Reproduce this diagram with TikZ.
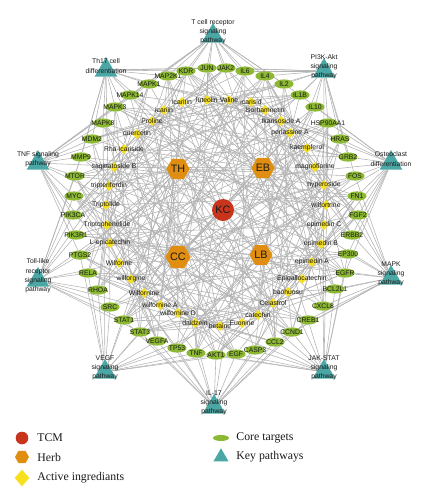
\documentclass[tikz,border=0pt]{standalone}
\usepackage{fontspec}
\setmainfont{Liberation Sans}
\newfontfamily\legendfont{Liberation Serif}
\usetikzlibrary{positioning,shapes.geometric,backgrounds}

\definecolor{kcred}{HTML}{C8341C}
\definecolor{herborange}{HTML}{E08E12}
\definecolor{ingyellow}{HTML}{F7E01E}
\definecolor{targetgreen}{HTML}{8CB833}
\definecolor{pathteal}{HTML}{4BA7A6}
\definecolor{linkgray}{HTML}{B3B3B3}

\begin{document}
\begin{tikzpicture}[x=0.5pt, y=-0.5pt,
		txt/.style={font=\fontsize{3.4}{4.6}\selectfont, text=black!90, inner sep=0pt},
		tcmshape/.style={circle, fill=kcred, inner sep=0pt},
		herbshape/.style={regular polygon, regular polygon sides=6, fill=herborange, inner sep=0pt},
		ingshape/.style={diamond, fill=ingyellow, inner sep=0pt},
		targetshape/.style={ellipse, fill=targetgreen, inner sep=0pt},
		pathshape/.style={regular polygon, regular polygon sides=3, fill=pathteal, inner sep=0pt},
		tcm/.style={tcmshape, minimum size=11pt, font=\fontsize{5.4}{6}\selectfont, text=black!90},
		herb/.style={herbshape, minimum size=11.5pt, font=\fontsize{5.4}{6}\selectfont, text=black!90},
		ingred/.style={ingshape, minimum width=5pt, minimum height=5pt, label={[txt]center:#1}},
		target/.style={targetshape, minimum width=9.6pt, minimum height=4.6pt, label={[txt]center:#1}},
		pathway/.style={pathshape, minimum size=13pt, label={[txt, align=center, yshift=2pt]center:#1}},
		link/.style={draw=linkgray, line width=0.28pt},
		legendtext/.style={font=\legendfont\fontsize{5.9}{7}\selectfont, text=black!90, inner sep=0pt, anchor=west},
		]
		\useasboundingbox (0,0) rectangle (426,500);
		
		%Nodes
		\node[tcm]  (kc) at (223,210) {KC};
		\node[herb] (h1) at (178,169) {TH};
		\node[herb] (h2) at (263,168) {EB};
		\node[herb] (h3) at (178,257) {CC};
		\node[herb] (h4) at (261,255) {LB};
		
		%Ingredients
		\node[ingred=icaritin]         (a1)  at (182,102) {};
		\node[ingred=luteolin]         (a2)  at (207,100) {};
		\node[ingred=Valine]           (a3)  at (229,100) {};
		\node[ingred=icarisid]         (a4)  at (251,102) {};
		\node[ingred=Isorhamnetin]     (a5)  at (265,110) {};
		\node[ingred=Ikarisoside A]    (a6)  at (281,121) {};
		\node[ingred=perlassine A]     (a7)  at (290,133) {};
		\node[ingred=kaempferol]       (a8)  at (307,148) {};
		\node[ingred=magnoflorine]     (a9)  at (315,167) {};
		\node[ingred=hyperoside]       (a10) at (324,185) {};
		\node[ingred=wilfortrine]      (a11) at (326,205) {};
		\node[ingred=epimedin C]       (a12) at (324,225) {};
		\node[ingred=epimedin B]       (a13) at (321,244) {};
		\node[ingred=epimedin A]       (a14) at (312,262) {};
		\node[ingred=Epigallocatechin] (a15) at (302,279) {};
		\node[ingred=baohuosu]         (a16) at (288,292) {};
		\node[ingred=Celastrol]        (a17) at (273,303) {};
		\node[ingred=catechin]         (a18) at (258,315) {};
		\node[ingred=Euonine]          (a19) at (242,323) {};
		\node[ingred=betaine]          (a20) at (220,326) {};
		\node[ingred=daidzein]         (a21) at (195,323) {};
		\node[ingred=wilfornine D]     (a22) at (178,313) {};
		\node[ingred=wilfornine A]     (a23) at (160,305) {};
		\node[ingred=Wilfornine]       (a24) at (144,293) {};
		\node[ingred=wilforgine]       (a25) at (131,279) {};
		\node[ingred=Wilforine]        (a26) at (119,263) {};
		\node[ingred=L-epicatechin]    (a27) at (110,243) {};
		\node[ingred=Triptophenolide]  (a28) at (107,225) {};
		\node[ingred=Triptolide]       (a29) at (106,205) {};
		\node[ingred=tripterifordin]   (a30) at (109,186) {};
		\node[ingred=sagittatoside B]  (a31) at (114,167) {};
		\node[ingred=Rha-icariside]    (a32) at (124,149) {};
		\node[ingred=quercetin]        (a33) at (137,134) {};
		\node[ingred=Proline]          (a34) at (152,121) {};
		\node[ingred=icariin]          (a35) at (164,110) {};
		
		%Targets
		\node[target=JUN]      (t1)  at (207,68) {};
		\node[target=JAK2]     (t2)  at (226,68) {};
		\node[target=IL6]      (t3)  at (245,71) {};
		\node[target=IL4]      (t4)  at (265,76) {};
		\node[target=IL2]      (t5)  at (284,84) {};
		\node[target=IL1B]     (t6)  at (300,95) {};
		\node[target=IL10]     (t7)  at (315,107) {};
		\node[target=HSP90AA1] (t8)  at (328,123) {};
		\node[target=HRAS]     (t9)  at (340,139) {};
		\node[target=GRB2]     (t10) at (348,157) {};
		\node[target=FOS]      (t11) at (355,176) {};
		\node[target=FN1]      (t12) at (357,196) {};
		\node[target=FGF2]     (t13) at (358,215) {};
		\node[target=ERBB2]    (t14) at (352,235) {};
		\node[target=EP300]    (t15) at (348,254) {};
		\node[target=EGFR]     (t16) at (345,273) {};
		\node[target=BCL2L1]   (t17) at (335,289) {};
		\node[target=CXCL8]    (t18) at (323,306) {};
		\node[target=CREB1]    (t19) at (308,320) {};
		\node[target=CCND1]    (t20) at (292,332) {};
		\node[target=CCL2]     (t21) at (275,342) {};
		\node[target=CASP3]    (t22) at (255,350) {};
		\node[target=EGF]      (t23) at (236,354) {};
		\node[target=AKT1]     (t24) at (216,355) {};
		\node[target=TNF]      (t25) at (196,353) {};
		\node[target=TP53]     (t26) at (177,348) {};
		\node[target=VEGFA]    (t27) at (157,341) {};
		\node[target=STAT3]    (t28) at (140,332) {};
		\node[target=STAT1]    (t29) at (124,320) {};
		\node[target=SRC]      (t30) at (110,307) {};
		\node[target=RHOA]     (t31) at (98,290) {};
		\node[target=RELA]     (t32) at (88,273) {};
		\node[target=PTGS2]    (t33) at (80,255) {};
		\node[target=PIK3R1]   (t34) at (76,235) {};
		\node[target=PIK3CA]   (t35) at (73,215) {};
		\node[target=MYC]      (t36) at (74,196) {};
		\node[target=MTOR]     (t37) at (75,176) {};
		\node[target=MMP9]     (t38) at (81,157) {};
		\node[target=MDM2]     (t39) at (92,139) {};
		\node[target=MAPK8]    (t40) at (103,123) {};
		\node[target=MAPK3]    (t41) at (115,107) {};
		\node[target=MAPK14]   (t42) at (130,95) {};
		\node[target=MAPK1]    (t43) at (149,84) {};
		\node[target=MAP2K1]   (t44) at (168,76) {};
		\node[target=KDR]      (t45) at (186,71) {};
		
		%Pathways
		\node[pathway={T cell receptor\\signaling\\pathway}] (p1)  at (213,36) {};
		\node[pathway={PI3K-Akt\\signaling\\pathway}]        (p2)  at (324,71) {};
		\node[pathway={Osteoclast\\differentiation}]         (p3)  at (391,163) {};
		\node[pathway={MAPK\\signaling\\pathway}]            (p4)  at (391,278) {};
		\node[pathway={JAK-STAT\\signaling\\pathway}]        (p5)  at (324,372) {};
		\node[pathway={IL-17\\signaling\\pathway}]           (p6)  at (214,407) {};
		\node[pathway={VEGF\\signaling\\pathway}]            (p7)  at (105,372) {};
		\node[pathway={Toll-like\\receptor\\signaling\\pathway}] (p8) at (38,280) {};
		\node[pathway={TNF signaling\\pathway}]              (p9)  at (38,163) {};
		\node[pathway={Th17 cell\\differentiation}]          (p10) at (106,70) {};
		
		%Lines
		\begin{pgfonlayer}{background}
		\draw[link] (kc) edge (h1) edge (h2) edge (h3) edge (h4);
		\draw[link] (h1) edge (a11) edge (a17) edge (a19) edge (a22) edge (a23) edge (a24) edge (a25) edge (a26) edge (a27) edge (a28) edge (a29) edge (a30);
		\draw[link] (h2) edge (a1) edge (a2) edge (a4) edge (a5) edge (a6) edge (a8) edge (a12) edge (a13) edge (a14) edge (a16) edge (a31) edge (a32) edge (a33) edge (a35);
		\draw[link] (h3) edge (a3) edge (a7) edge (a9) edge (a10) edge (a15) edge (a18) edge (a20) edge (a33) edge (a34);
		\draw[link] (h4) edge (a2) edge (a8) edge (a10) edge (a15) edge (a18) edge (a21) edge (a27) edge (a33);
		
		\draw[link] (a1) edge (t5) edge (t13) edge (t21) edge (t27) edge (t35) edge (t42) edge (t2);
		\draw[link] (a2) edge (t9) edge (t17) edge (t25) edge (t31) edge (t39) edge (t1) edge (t6);
		\draw[link] (a3) edge (t13) edge (t21) edge (t29) edge (t35) edge (t43) edge (t5) edge (t10);
		\draw[link] (a4) edge (t17) edge (t25) edge (t33) edge (t39) edge (t2) edge (t9) edge (t14);
		\draw[link] (a5) edge (t21) edge (t29) edge (t37) edge (t43) edge (t6) edge (t13) edge (t18);
		\draw[link] (a6) edge (t25) edge (t33) edge (t41) edge (t2) edge (t10) edge (t17) edge (t22);
		\draw[link] (a7) edge (t29) edge (t37) edge (t45) edge (t6) edge (t14) edge (t21) edge (t26);
		\draw[link] (a8) edge (t33) edge (t41) edge (t4) edge (t10) edge (t18) edge (t25) edge (t30);
		\draw[link] (a9) edge (t37) edge (t45) edge (t8) edge (t14) edge (t22) edge (t29) edge (t34);
		\draw[link] (a10) edge (t41) edge (t4) edge (t12) edge (t18) edge (t26) edge (t33) edge (t38);
		\draw[link] (a11) edge (t45) edge (t8) edge (t16) edge (t22) edge (t30) edge (t37) edge (t42);
		\draw[link] (a12) edge (t4) edge (t12) edge (t20) edge (t26) edge (t34) edge (t41) edge (t1);
		\draw[link] (a13) edge (t8) edge (t16) edge (t24) edge (t30) edge (t38) edge (t45) edge (t5);
		\draw[link] (a14) edge (t12) edge (t20) edge (t28) edge (t34) edge (t42) edge (t4) edge (t9);
		\draw[link] (a15) edge (t16) edge (t24) edge (t32) edge (t38) edge (t1) edge (t8) edge (t13);
		\draw[link] (a16) edge (t20) edge (t28) edge (t36) edge (t42) edge (t5) edge (t12) edge (t17);
		\draw[link] (a17) edge (t24) edge (t32) edge (t40) edge (t1) edge (t9) edge (t16) edge (t21);
		\draw[link] (a18) edge (t28) edge (t36) edge (t44) edge (t5) edge (t13) edge (t20) edge (t25);
		\draw[link] (a19) edge (t32) edge (t40) edge (t3) edge (t9) edge (t17) edge (t24) edge (t29);
		\draw[link] (a20) edge (t36) edge (t44) edge (t7) edge (t13) edge (t21) edge (t28) edge (t33);
		\draw[link] (a21) edge (t40) edge (t3) edge (t11) edge (t17) edge (t25) edge (t32) edge (t37);
		\draw[link] (a22) edge (t44) edge (t7) edge (t15) edge (t21) edge (t29) edge (t36) edge (t41);
		\draw[link] (a23) edge (t3) edge (t11) edge (t19) edge (t25) edge (t33) edge (t40) edge (t45);
		\draw[link] (a24) edge (t7) edge (t15) edge (t23) edge (t29) edge (t37) edge (t44) edge (t4);
		\draw[link] (a25) edge (t11) edge (t19) edge (t27) edge (t33) edge (t41) edge (t3) edge (t8);
		\draw[link] (a26) edge (t15) edge (t23) edge (t31) edge (t37) edge (t45) edge (t7) edge (t12);
		\draw[link] (a27) edge (t19) edge (t27) edge (t35) edge (t41) edge (t4) edge (t11) edge (t16);
		\draw[link] (a28) edge (t23) edge (t31) edge (t39) edge (t45) edge (t8) edge (t15) edge (t20);
		\draw[link] (a29) edge (t27) edge (t35) edge (t43) edge (t4) edge (t12) edge (t19) edge (t24);
		\draw[link] (a30) edge (t31) edge (t39) edge (t2) edge (t8) edge (t16) edge (t23) edge (t28);
		\draw[link] (a31) edge (t35) edge (t43) edge (t6) edge (t12) edge (t20) edge (t27) edge (t32);
		\draw[link] (a32) edge (t39) edge (t2) edge (t10) edge (t16) edge (t24) edge (t31) edge (t36);
		\draw[link] (a33) edge (t43) edge (t6) edge (t14) edge (t20) edge (t28) edge (t35) edge (t40);
		\draw[link] (a34) edge (t2) edge (t10) edge (t18) edge (t24) edge (t32) edge (t39) edge (t44);
		\draw[link] (a35) edge (t6) edge (t14) edge (t22) edge (t28) edge (t36) edge (t43) edge (t3);
		
		\draw[link] (p1) edge (t41) edge (t42) edge (t43) edge (t44) edge (t45) edge (t1) edge (t2) edge (t3) edge (t4) edge (t5) edge (t6) edge (t13) edge (t34) edge (t19) edge (t26);
		\draw[link] (p2) edge (t1) edge (t2) edge (t3) edge (t4) edge (t5) edge (t6) edge (t7) edge (t8) edge (t9) edge (t10) edge (t11) edge (t18) edge (t39) edge (t24) edge (t31);
		\draw[link] (p3) edge (t6) edge (t7) edge (t8) edge (t9) edge (t10) edge (t11) edge (t12) edge (t13) edge (t14) edge (t15) edge (t16) edge (t23) edge (t44) edge (t29) edge (t36);
		\draw[link] (p4) edge (t11) edge (t12) edge (t13) edge (t14) edge (t15) edge (t16) edge (t17) edge (t18) edge (t19) edge (t20) edge (t21) edge (t28) edge (t4) edge (t34) edge (t41);
		\draw[link] (p5) edge (t15) edge (t16) edge (t17) edge (t18) edge (t19) edge (t20) edge (t21) edge (t22) edge (t23) edge (t24) edge (t25) edge (t32) edge (t8) edge (t38) edge (t45);
		\draw[link] (p6) edge (t19) edge (t20) edge (t21) edge (t22) edge (t23) edge (t24) edge (t25) edge (t26) edge (t27) edge (t28) edge (t29) edge (t36) edge (t12) edge (t42) edge (t4);
		\draw[link] (p7) edge (t23) edge (t24) edge (t25) edge (t26) edge (t27) edge (t28) edge (t29) edge (t30) edge (t31) edge (t32) edge (t33) edge (t40) edge (t16) edge (t1) edge (t8);
		\draw[link] (p8) edge (t28) edge (t29) edge (t30) edge (t31) edge (t32) edge (t33) edge (t34) edge (t35) edge (t36) edge (t37) edge (t38) edge (t45) edge (t21) edge (t6) edge (t13);
		\draw[link] (p9) edge (t33) edge (t34) edge (t35) edge (t36) edge (t37) edge (t38) edge (t39) edge (t40) edge (t41) edge (t42) edge (t43) edge (t5) edge (t26) edge (t11) edge (t18);
		\draw[link] (p10) edge (t37) edge (t38) edge (t39) edge (t40) edge (t41) edge (t42) edge (t43) edge (t44) edge (t45) edge (t1) edge (t2) edge (t9) edge (t30) edge (t16) edge (t23);
		\end{pgfonlayer}
		
		%Legend
		\node[tcmshape, minimum size=6.3pt] (lg1) at (22,438) {};
		\node[herbshape, minimum size=7pt] (lg2) at (22,457) {};
		\node[ingshape, minimum width=7.5pt, minimum height=8.5pt] (lg3) at (22,478) {};
		\node[targetshape, minimum width=8pt, minimum height=3pt] (lg4) at (221,438) {};
		\node[pathshape, minimum size=8.7pt] (lg5) at (221,457) {};
		\node[legendtext] (lt1) at (37,438) {TCM};
		\node[legendtext] (lt2) at (37,457) {Herb};
		\node[legendtext] (lt3) at (37,478) {Active ingrediants};
		\node[legendtext] (lt4) at (236,438) {Core targets};
		\node[legendtext] (lt5) at (236,457) {Key pathways};
\end{tikzpicture}
\end{document}
